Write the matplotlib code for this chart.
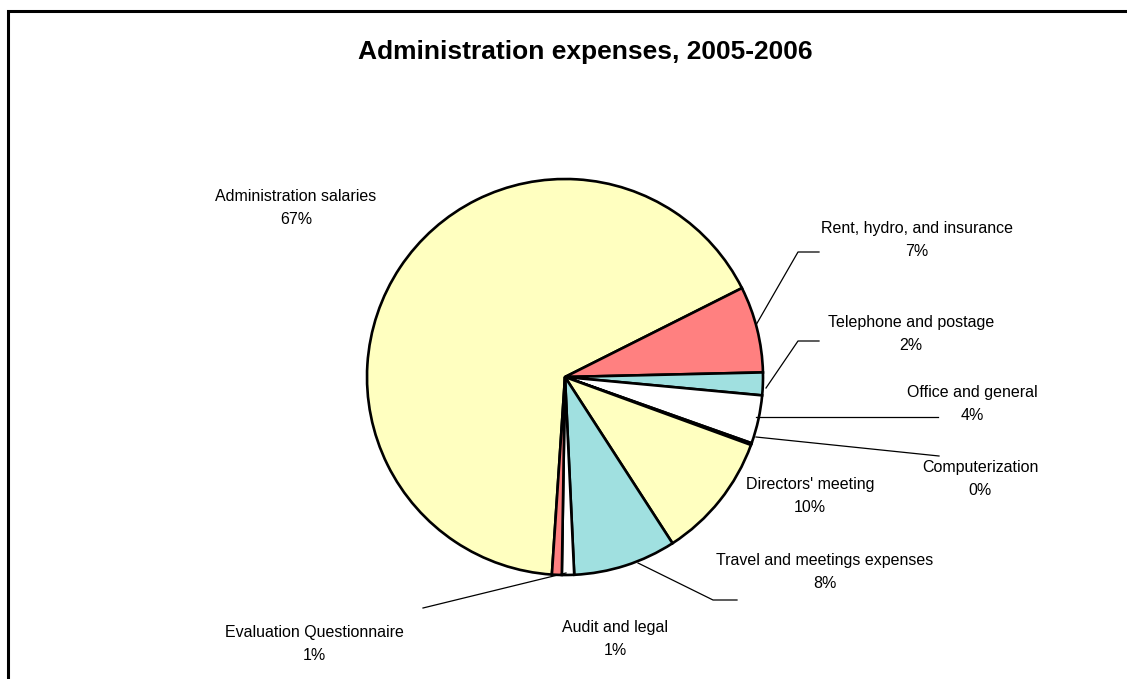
import matplotlib
matplotlib.use("Agg")
import matplotlib.pyplot as plt

categories = ["Administration salaries", "Rent, hydro, and insurance", "Telephone and postage",
              "Office and general", "Computerization", "Directors' meeting",
              "Travel and meetings expenses", "Audit and legal", "Evaluation Questionnaire"]
values = [66.6, 7.05, 1.85, 3.95, 0.15, 10.3, 8.4, 1.0, 0.8]
colors = ["#FFFFC0", "#FF8080", "#A0E0E0", "#FFFFFF", "#FFFFFF", "#FFFFC0", "#A0E0E0", "#FFFFFF", "#FF8080"]
title = "Administration expenses, 2005-2006"

W, H = 1127, 679
fig = plt.figure(figsize=(W / 100, H / 100), dpi=100)
ax = fig.add_axes([0, 0, 1, 1])

def Y(py):
    return H - py

ax.pie(values, colors=colors, center=(565, Y(377)), radius=198, startangle=-93.8,
       counterclock=False, wedgeprops=dict(edgecolor="black", linewidth=1.9, joinstyle="miter"))
ax.set_xlim(0, W)
ax.set_ylim(0, H)
ax.set_aspect("equal")
ax.axis("off")

font = "Liberation Sans"
total = sum(values)
# label centres (pixel coords)
label_pos = [(296, 208), (917, 240), (911, 334), (972, 404), (980, 479),
             (810, 496), (825, 572), (615, 639), (314, 644)]
for cat, v, (px, py) in zip(categories, values, label_pos):
    ax.text(px, Y(py), f"{cat}\n{v / total * 100:.0f}%", ha="center", va="center",
            fontsize=11.5, family=font, linespacing=1.6, color="black")

# leader lines
leaders = [
    [(756, 325), (798, 252), (819, 252)],
    [(766, 388), (798, 341), (819, 341)],
    [(756, 417), (938, 417)],
    [(756, 437), (939, 456)],
    [(638, 563), (713, 600), (737, 600)],
    [(566, 573), (423, 608)],
]
for pts in leaders:
    xs = [p[0] for p in pts]
    ys = [Y(p[1]) for p in pts]
    ax.plot(xs, ys, color="black", linewidth=0.9)

ax.text(585, Y(52), title, ha="center", va="center", fontsize=19, fontweight="bold", family=font)

# chart area border (left and top visible)
ax.plot([8, 8, W + 5], [Y(H + 5), Y(11), Y(11)], color="black", linewidth=2.2, solid_joinstyle="miter")

fig.savefig("out.png", dpi=100)
